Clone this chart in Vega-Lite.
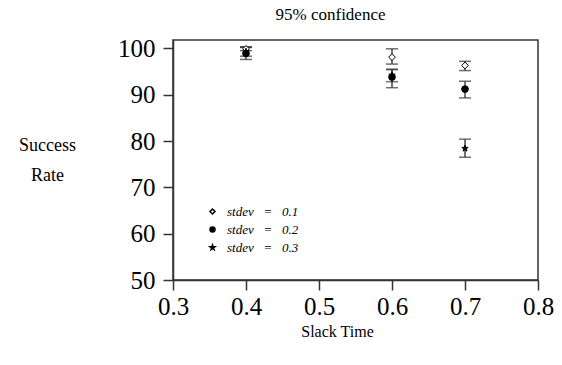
{
  "$schema": "https://vega.github.io/schema/vega-lite/v6.json",
  "autosize": {"type": "none"},
  "padding": {"left": 173, "top": 40, "right": 24, "bottom": 85},
  "width": 365,
  "height": 240,
  "title": {"text": "95% confidence", "dx": -25, "offset": 12, "font": "'Liberation Serif', serif", "fontSize": 17, "fontWeight": 400, "color": "#000"},
  "config": {
    "view": {"stroke": "#333", "strokeWidth": 1.5},
    "font": "Liberation Serif"
  },
  "data": {"values": [
    {"slack": 0.4, "series": "stdev = 0.1", "mean": 99.9, "lo": 99.5, "hi": 100.3},
    {"slack": 0.4, "series": "stdev = 0.2", "mean": 98.9, "lo": 97.6, "hi": 100.2},
    {"slack": 0.4, "series": "stdev = 0.3", "mean": 99.3, "lo": 98.3, "hi": 100.3},
    {"slack": 0.6, "series": "stdev = 0.1", "mean": 98.1, "lo": 96.6, "hi": 99.9},
    {"slack": 0.6, "series": "stdev = 0.2", "mean": 93.8, "lo": 91.5, "hi": 95.4},
    {"slack": 0.6, "series": "stdev = 0.3", "mean": 94.2, "lo": 92.8, "hi": 95.5},
    {"slack": 0.7, "series": "stdev = 0.1", "mean": 96.3, "lo": 95.2, "hi": 97.2},
    {"slack": 0.7, "series": "stdev = 0.2", "mean": 91.2, "lo": 89.3, "hi": 92.9},
    {"slack": 0.7, "series": "stdev = 0.3", "mean": 78.4, "lo": 76.5, "hi": 80.4}
  ]},
  "encoding": {
    "x": {"field": "slack", "type": "quantitative",
      "scale": {"domain": [0.3, 0.8], "nice": false, "zero": false},
      "axis": {"title": "Slack Time", "titleFont": "Liberation Serif", "titleFontSize": 16, "titleFontWeight": "normal", "titleColor": "#000",
        "titleX": 164, "titleY": 51, "titleBaseline": "middle",
        "values": [0.3, 0.4, 0.5, 0.6, 0.7, 0.8], "format": ".1f",
        "labelFont": "Liberation Serif", "labelFontSize": 25, "labelColor": "#000", "labelPadding": 4,
        "grid": false, "domainColor": "#333", "domainWidth": 1.5, "tickColor": "#333", "tickWidth": 1.5, "tickSize": 10, "labelFlush": false}},
    "y": {"type": "quantitative",
      "scale": {"domain": [50, 101.8], "nice": false, "zero": false},
      "axis": {"title": ["Success", "Rate"], "titleFont": "Liberation Serif", "titleFontSize": 18, "titleFontWeight": "normal", "titleColor": "#000",
        "titleAngle": 0, "titleX": -126, "titleY": 105, "titleAlign": "center", "titleBaseline": "middle", "titleLineHeight": 30,
        "values": [50, 60, 70, 80, 90, 100],
        "labelFont": "Liberation Serif", "labelFontSize": 25, "labelColor": "#000", "labelPadding": 8,
        "grid": false, "domainColor": "#333", "domainWidth": 1.5, "tickColor": "#333", "tickWidth": 1.5, "tickSize": 10}}
  },
  "layer": [
    {"mark": {"type": "rule", "color": "#444", "strokeWidth": 1.5},
     "encoding": {"y": {"field": "lo", "type": "quantitative"}, "y2": {"field": "hi"}}},
    {"mark": {"type": "tick", "orient": "horizontal", "color": "#333", "size": 12, "thickness": 1.5},
     "encoding": {"y": {"field": "lo", "type": "quantitative"}}},
    {"mark": {"type": "tick", "orient": "horizontal", "color": "#333", "size": 12, "thickness": 1.5},
     "encoding": {"y": {"field": "hi", "type": "quantitative"}}},
    {"mark": {"type": "point", "filled": false, "stroke": "#000", "strokeWidth": 1, "opacity": 1, "size": 45},
     "encoding": {
       "y": {"field": "mean", "type": "quantitative"},
       "shape": {"field": "series", "type": "nominal",
         "scale": {"domain": ["stdev = 0.1", "stdev = 0.2", "stdev = 0.3"],
           "range": ["diamond", "circle", "M0,-1L0.2245,-0.309L0.951,-0.309L0.363,0.118L0.588,0.809L0,0.382L-0.588,0.809L-0.363,0.118L-0.951,-0.309L-0.2245,-0.309Z"]},
         "legend": {"title": null, "orient": "none", "legendX": 33, "legendY": 165, "labelFont": "Liberation Serif", "labelFontStyle": "italic", "labelFontSize": 13, "labelColor": "#000", "rowPadding": 4, "symbolSize": 25, "labelOffset": 8,
           "labelExpr": "replace(datum.label, /=/, '\u00a0\u00a0=\u00a0\u00a0')",
           "encode": {"symbols": {"update": {"stroke": {"value": "#000"}, "strokeWidth": {"value": 1}}}}}},
       "fill": {"field": "series", "type": "nominal",
         "scale": {"domain": ["stdev = 0.1", "stdev = 0.2", "stdev = 0.3"], "range": ["#ffffff", "#000000", "#000000"]},
         "legend": {"title": null, "orient": "none", "legendX": 33, "legendY": 165, "labelFont": "Liberation Serif", "labelFontStyle": "italic", "labelFontSize": 13, "labelColor": "#000", "rowPadding": 4, "symbolSize": 25, "labelOffset": 8,
           "labelExpr": "replace(datum.label, /=/, '\u00a0\u00a0=\u00a0\u00a0')",
           "encode": {"symbols": {"update": {"stroke": {"value": "#000"}, "strokeWidth": {"value": 1}}}}}}
     }}
  ]
}
